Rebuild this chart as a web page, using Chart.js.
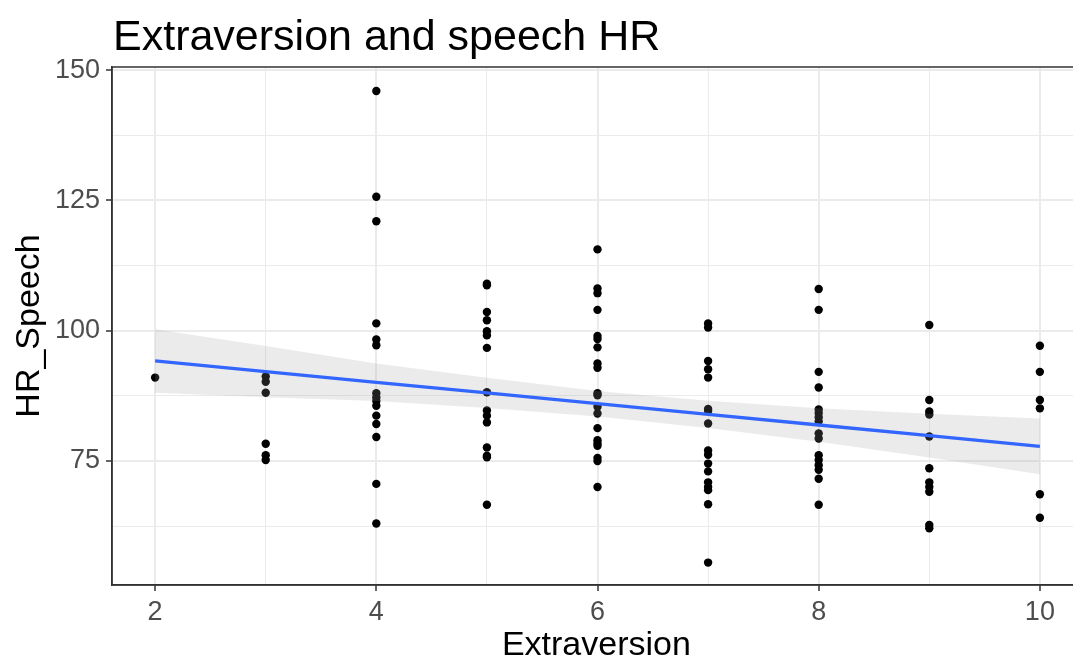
<!DOCTYPE html>
<html>
<head>
<meta charset="utf-8">
<title>Extraversion and speech HR</title>
<script src="https://cdn.jsdelivr.net/npm/chart.js@4.4.1/dist/chart.umd.min.js"></script>
<style>
  html, body { margin: 0; padding: 0; background: #fff; overflow: hidden; }
  canvas { display: block; }
</style>
</head>
<body>
<canvas id="hrChart" width="1085" height="663"></canvas>
<script>
// HR during the speech task, grouped by extraversion score
const levels = [2, 3, 4, 5, 6, 7, 8, 9, 10];
const hrAt2 = [91.0];
const hrAt3 = [91.2, 90.2, 88.1, 78.3, 76.1, 75.2];
const hrAt4 = [146.0, 125.7, 121.0, 101.4, 98.3, 97.2, 88.0, 87.2, 86.5, 85.6, 83.7, 82.1, 79.6, 70.6, 63.0];
const hrAt5 = [109.0, 108.7, 103.6, 102.0, 99.9, 99.1, 96.7, 88.2, 84.7, 83.7, 82.4, 77.6, 76.0, 75.7, 66.6];
const hrAt6 = [115.6, 108.1, 107.2, 104.0, 99.0, 98.4, 96.8, 93.7, 92.9, 88.0, 87.6, 85.4, 84.1, 81.3, 79.0, 78.4, 77.9, 75.6, 75.0, 70.0];
const hrAt7 = [101.4, 100.6, 94.2, 92.6, 91.0, 85.0, 84.6, 82.2, 77.0, 76.2, 74.5, 73.0, 70.9, 70.0, 69.4, 66.7, 55.5];
const hrAt8 = [108.0, 104.0, 92.1, 89.1, 84.9, 84.2, 83.4, 82.6, 80.3, 79.3, 76.1, 75.2, 74.2, 73.3, 71.6, 66.6];
const hrAt9 = [101.1, 86.7, 84.5, 83.9, 79.7, 73.6, 70.9, 70.0, 69.1, 62.7, 62.1];
const hrAt10 = [97.1, 92.1, 86.7, 85.1, 68.6, 64.1];
const hrSpeech = [hrAt2, hrAt3, hrAt4, hrAt5, hrAt6, hrAt7, hrAt8, hrAt9, hrAt10];

// linear fit and its confidence band
const fitY = [94.2, 92.15, 90.1, 88.05, 86.0, 83.95, 81.9, 79.85, 77.8];
const bandUpper = [100.3, 97.05, 93.7, 90.95, 88.45, 86.55, 85.1, 84.05, 83.15];
const bandLower = [88.1, 87.25, 86.5, 85.15, 83.55, 81.35, 78.7, 75.65, 72.45];

const points = [];
levels.forEach((lv, i) => hrSpeech[i].forEach(v => points.push({ x: lv, y: v })));
const toXY = ys => levels.map((lv, i) => ({ x: lv, y: ys[i] }));

const FONT = '"Liberation Sans", Arial, sans-serif';
const GRID = 'rgb(235,235,235)';
const AXIS = '#333333';

// title sits flush with the panel's left edge
const plotTitle = {
  id: 'plotTitle',
  afterDraw(chart) {
    const ctx = chart.ctx;
    ctx.save();
    ctx.font = '43px ' + FONT;
    ctx.fillStyle = '#000';
    ctx.textBaseline = 'alphabetic';
    ctx.textAlign = 'left';
    ctx.fillText('Extraversion and speech HR', chart.chartArea.left + 1, 50);
    ctx.restore();
  }
};

// panel border on top of everything
const panelBorder = {
  id: 'panelBorder',
  afterDatasetsDraw(chart) {
    const { left, top, right, bottom } = chart.chartArea;
    const ctx = chart.ctx;
    ctx.save();
    ctx.strokeStyle = AXIS;
    ctx.lineWidth = 1.5;
    ctx.strokeRect(left, top, right - left, bottom - top);
    ctx.restore();
  }
};

new Chart(document.getElementById('hrChart'), {
  type: 'scatter',
  data: {
    datasets: [
      {
        label: 'HR_Speech',
        data: points,
        backgroundColor: '#000',
        borderWidth: 0,
        pointRadius: 4.2,
        order: 3
      },
      {
        type: 'line',
        label: 'upper',
        data: toXY(bandUpper),
        borderWidth: 0,
        pointRadius: 0,
        backgroundColor: 'rgba(153,153,153,0.2)',
        fill: '+1',
        order: 2
      },
      {
        type: 'line',
        label: 'lower',
        data: toXY(bandLower),
        borderWidth: 0,
        pointRadius: 0,
        fill: false,
        order: 2
      },
      {
        type: 'line',
        label: 'fit',
        data: toXY(fitY),
        borderColor: '#3366FF',
        borderWidth: 3.3,
        pointRadius: 0,
        fill: false,
        order: 1
      }
    ]
  },
  options: {
    responsive: false,
    animation: false,
    layout: { padding: { top: 67, left: 0, right: 0, bottom: 0 } },
    plugins: {
      legend: { display: false },
      tooltip: { enabled: false },
      title: { display: false }
    },
    scales: {
      x: {
        type: 'linear',
        min: 1.61,
        max: 10.37,
        afterFit: s => { s.height = 78; },
        border: { color: AXIS, width: 1.5 },
        grid: {
          color: GRID,
          lineWidth: c => (c.tick && c.tick.value % 2 === 0 ? 2 : 1),
          tickColor: c => (c.tick && c.tick.value % 2 === 0 ? AXIS : 'rgba(0,0,0,0)'),
          tickLength: 6,
          tickWidth: 1.5
        },
        ticks: {
          stepSize: 1,
          includeBounds: false,
          autoSkip: false,
          maxRotation: 0,
          padding: 5,
          color: '#4D4D4D',
          font: { family: FONT, size: 27 },
          callback: v => (v % 2 === 0 ? v : '')
        },
        title: {
          display: true,
          text: 'Extraversion',
          color: '#000',
          font: { family: FONT, size: 34, lineHeight: 1 },
          padding: { top: 0, bottom: 0 }
        }
      },
      y: {
        type: 'linear',
        min: 51.2,
        max: 150.6,
        afterFit: s => { s.width = 112; },
        border: { color: AXIS, width: 1.5 },
        grid: {
          color: GRID,
          lineWidth: c => (c.tick && c.tick.value % 25 === 0 ? 2 : 1),
          tickColor: c => (c.tick && c.tick.value % 25 === 0 ? AXIS : 'rgba(0,0,0,0)'),
          tickLength: 6,
          tickWidth: 1.5
        },
        ticks: {
          stepSize: 12.5,
          includeBounds: false,
          autoSkip: false,
          padding: 6,
          color: '#4D4D4D',
          font: { family: FONT, size: 27 },
          callback: v => (v % 25 === 0 ? v : '')
        },
        title: {
          display: true,
          text: 'HR_Speech',
          color: '#000',
          font: { family: FONT, size: 34, lineHeight: 1 },
          padding: { top: 13, bottom: 0 }
        }
      }
    }
  },
  plugins: [panelBorder, plotTitle]
});
</script>
</body>
</html>
